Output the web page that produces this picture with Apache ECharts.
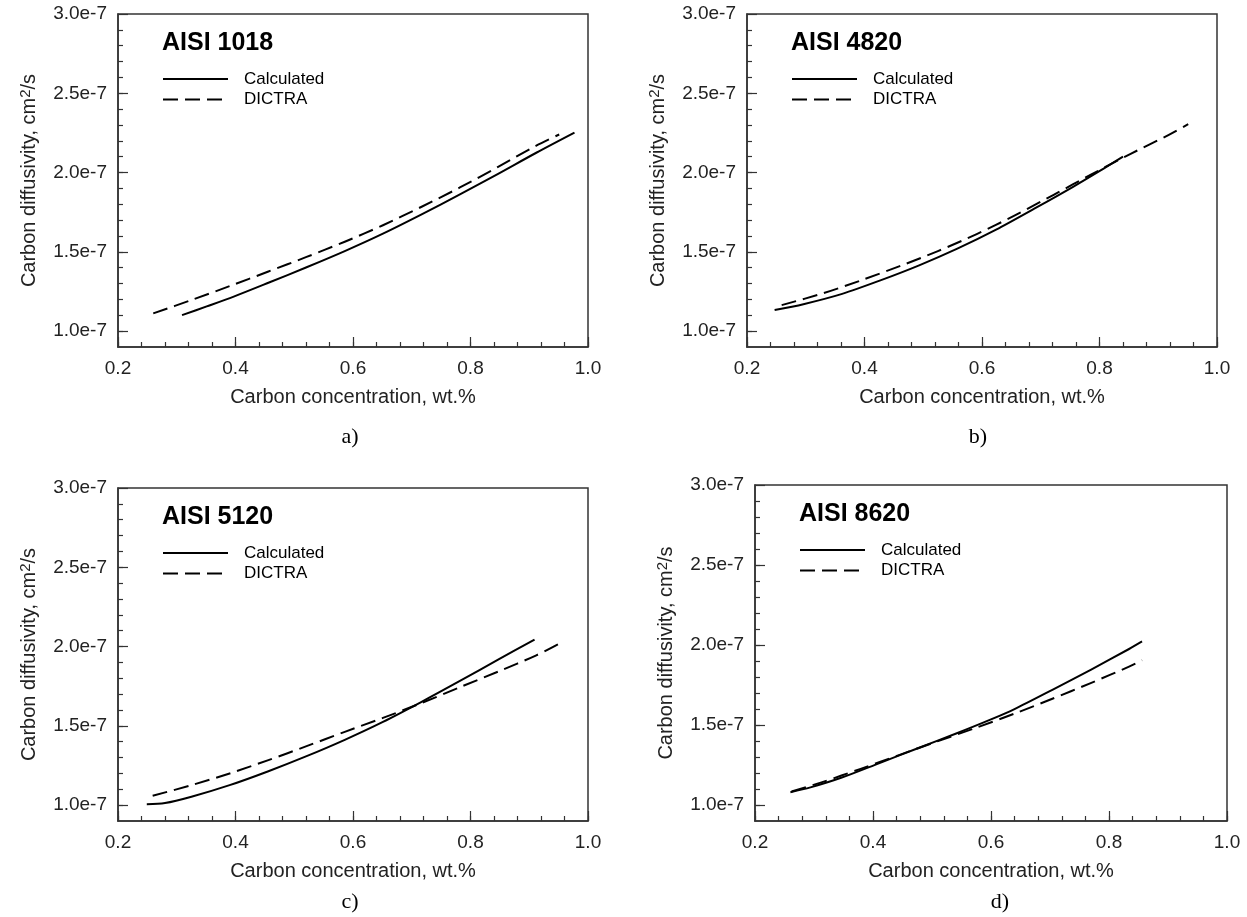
<!DOCTYPE html>
<html>
<head>
<meta charset="utf-8">
<script src="https://cdn.jsdelivr.net/npm/echarts@6/dist/echarts.min.js"></script>
<style>
  html, body { margin: 0; padding: 0; background: #fff; }
  #chart { width: 1247px; height: 917px; }
</style>
</head>
<body>
<div id="chart"></div>
<script>
// Carbon concentration (wt.%) and carbon diffusivity (cm^2/s) for each steel grade.
const conc1018Calc = [0.309, 0.351, 0.397, 0.456, 0.521, 0.586, 0.651, 0.716, 0.782, 0.847, 0.912, 0.977];
const diff1018Calc = [1.101e-7, 1.156e-7, 1.218e-7, 1.305e-7, 1.403e-7, 1.505e-7, 1.615e-7, 1.735e-7, 1.862e-7, 1.992e-7, 2.125e-7, 2.252e-7];
const conc1018Dictra = [0.260, 0.325, 0.390, 0.456, 0.521, 0.586, 0.651, 0.716, 0.782, 0.847, 0.912, 0.951];
const diff1018Dictra = [1.112e-7, 1.196e-7, 1.284e-7, 1.376e-7, 1.468e-7, 1.564e-7, 1.668e-7, 1.783e-7, 1.906e-7, 2.036e-7, 2.170e-7, 2.240e-7];

const conc4820Calc = [0.247, 0.296, 0.362, 0.427, 0.493, 0.558, 0.624, 0.689, 0.755, 0.807, 0.840];
const diff4820Calc = [1.133e-7, 1.170e-7, 1.235e-7, 1.320e-7, 1.415e-7, 1.520e-7, 1.640e-7, 1.772e-7, 1.910e-7, 2.025e-7, 2.100e-7];
const conc4820Dictra = [0.259, 0.329, 0.394, 0.460, 0.525, 0.591, 0.656, 0.722, 0.787, 0.853, 0.918, 0.951];
const diff4820Dictra = [1.164e-7, 1.238e-7, 1.320e-7, 1.410e-7, 1.505e-7, 1.612e-7, 1.730e-7, 1.860e-7, 1.990e-7, 2.118e-7, 2.238e-7, 2.305e-7];

const conc5120Calc = [0.249, 0.280, 0.325, 0.390, 0.456, 0.521, 0.586, 0.651, 0.716, 0.782, 0.847, 0.909];
const diff5120Calc = [1.006e-7, 1.013e-7, 1.053e-7, 1.126e-7, 1.214e-7, 1.309e-7, 1.412e-7, 1.525e-7, 1.650e-7, 1.783e-7, 1.918e-7, 2.044e-7];
const conc5120Dictra = [0.259, 0.325, 0.390, 0.456, 0.521, 0.586, 0.651, 0.716, 0.782, 0.847, 0.912, 0.951];
const diff5120Dictra = [1.059e-7, 1.126e-7, 1.200e-7, 1.284e-7, 1.372e-7, 1.462e-7, 1.550e-7, 1.643e-7, 1.744e-7, 1.842e-7, 1.945e-7, 2.019e-7];

const conc8620Calc = [0.260, 0.294, 0.346, 0.411, 0.476, 0.541, 0.600, 0.639, 0.704, 0.769, 0.834, 0.856];
const diff8620Calc = [1.080e-7, 1.110e-7, 1.170e-7, 1.262e-7, 1.355e-7, 1.447e-7, 1.535e-7, 1.598e-7, 1.720e-7, 1.845e-7, 1.975e-7, 2.022e-7];
const conc8620Dictra = [0.262, 0.314, 0.379, 0.444, 0.509, 0.574, 0.639, 0.704, 0.769, 0.834, 0.856];
const diff8620Dictra = [1.084e-7, 1.143e-7, 1.226e-7, 1.312e-7, 1.398e-7, 1.482e-7, 1.570e-7, 1.664e-7, 1.762e-7, 1.865e-7, 1.905e-7];

// Axis ranges and tick labels
const xMin = 0.2, xMax = 1.0;
const yMin = 0.9e-7, yMax = 3.0e-7;
const xTickLabels = [0.2, 0.4, 0.6, 0.8, 1.0];
const yTickLabels = [1.0e-7, 1.5e-7, 2.0e-7, 2.5e-7, 3.0e-7];
const xMinorStep = 0.04;
const yMinorStep = 0.1e-7;

const panelTitles = ['AISI 1018', 'AISI 4820', 'AISI 5120', 'AISI 8620'];
const panelCaptions = ['a)', 'b)', 'c)', 'd)'];
const seriesNames = ['Calculated', 'DICTRA'];
const xAxisName = 'Carbon concentration, wt.%';
const yAxisName = 'Carbon diffusivity, cm{sup|2}/s';

const panelData = [
  [[conc1018Calc, diff1018Calc], [conc1018Dictra, diff1018Dictra]],
  [[conc4820Calc, diff4820Calc], [conc4820Dictra, diff4820Dictra]],
  [[conc5120Calc, diff5120Calc], [conc5120Dictra, diff5120Dictra]],
  [[conc8620Calc, diff8620Calc], [conc8620Dictra, diff8620Dictra]]
];

// Page layout of the four panels
const panelLayout = [
  { left: 118, top: 14, width: 470, height: 333, captionX: 350, captionY: 426 },
  { left: 747, top: 14, width: 470, height: 333, captionX: 978, captionY: 426 },
  { left: 118, top: 488, width: 470, height: 333, captionX: 350, captionY: 891 },
  { left: 755, top: 485, width: 472, height: 336, captionX: 1000, captionY: 891 }
];

function stepValues(from, to, step) {
  const out = [];
  const n = Math.round((to - from) / step);
  for (let k = 0; k <= n; k++) out.push(from + k * step);
  return out;
}
const xMinorTicks = stepValues(xMin, xMax, xMinorStep);
const yMinorTicks = stepValues(1.0e-7, 2.9e-7, yMinorStep);

const SANS = '"Liberation Sans", Arial, Helvetica, sans-serif';
const SERIF = '"Liberation Serif", "Times New Roman", serif';
const INK = '#000';
const FRAME = '#333';

const grids = [], xAxes = [], yAxes = [], series = [], titles = [], legends = [];

panelLayout.forEach((p, i) => {
  grids.push({
    left: p.left, top: p.top, width: p.width, height: p.height,
    show: true, borderColor: FRAME, borderWidth: 1.5, backgroundColor: 'transparent'
  });

  // Main x axis: line, long ticks, labels, name
  xAxes.push({
    gridIndex: i, type: 'value', min: xMin, max: xMax, position: 'bottom',
    axisLine: { show: true, lineStyle: { color: FRAME, width: 1.5 } },
    axisTick: { show: true, inside: true, length: 10, customValues: xTickLabels, lineStyle: { color: FRAME, width: 1.2 } },
    axisLabel: { customValues: xTickLabels, formatter: v => v.toFixed(1), fontSize: 19, fontFamily: SANS, color: '#222', margin: 12 },
    splitLine: { show: false },
    name: xAxisName, nameLocation: 'middle', nameGap: 40,
    nameTextStyle: { fontSize: 20, fontFamily: SANS, color: '#222' }
  });
  // Minor x ticks
  xAxes.push({
    gridIndex: i, type: 'value', min: xMin, max: xMax, position: 'bottom',
    axisLine: { show: false },
    axisTick: { show: true, inside: true, length: 5, customValues: xMinorTicks, lineStyle: { color: FRAME, width: 1.2 } },
    axisLabel: { show: false }, splitLine: { show: false }
  });

  // Main y axis
  yAxes.push({
    gridIndex: i, type: 'value', min: yMin, max: yMax, position: 'left',
    axisLine: { show: true, lineStyle: { color: FRAME, width: 1.5 } },
    axisTick: { show: true, inside: true, length: 10, customValues: yTickLabels, lineStyle: { color: FRAME, width: 1.2 } },
    axisLabel: { customValues: yTickLabels, formatter: v => (v * 1e7).toFixed(1) + 'e-7', fontSize: 19, fontFamily: SANS, color: '#222', margin: 11 },
    splitLine: { show: false },
    name: yAxisName, nameLocation: 'middle', nameGap: 78, nameRotate: 90,
    nameTextStyle: {
      fontSize: 20, fontFamily: SANS, color: '#222', lineHeight: 22,
      rich: { sup: { fontSize: 15, fontFamily: SANS, color: '#222', lineHeight: 12, verticalAlign: 'top' } }
    }
  });
  // Minor y ticks
  yAxes.push({
    gridIndex: i, type: 'value', min: yMin, max: yMax, position: 'left',
    axisLine: { show: false },
    axisTick: { show: true, inside: true, length: 5, customValues: yMinorTicks, lineStyle: { color: FRAME, width: 1.2 } },
    axisLabel: { show: false }, splitLine: { show: false }
  });

  panelData[i].forEach((pair, s) => {
    const [xs, ys] = pair;
    series.push({
      name: seriesNames[s], type: 'line',
      xAxisIndex: 2 * i, yAxisIndex: 2 * i,
      data: xs.map((x, k) => [x, ys[k]]),
      symbol: 'none', showSymbol: false, smooth: 0.3,
      lineStyle: { color: INK, width: 2, type: s === 0 ? 'solid' : [15, 7], join: 'round' },
      itemStyle: { color: INK },
      z: 3
    });
  });

  // Panel heading, bold
  titles.push({
    text: panelTitles[i],
    left: p.left + 44, top: p.top + 17, padding: 0,
    textStyle: { fontSize: 25, fontWeight: 'bold', fontFamily: SANS, color: INK, lineHeight: 25 }
  });
  // Panel caption under the axis
  titles.push({
    text: panelCaptions[i],
    left: p.captionX, top: p.captionY, textAlign: 'center', padding: 0,
    textStyle: { fontSize: 22, fontWeight: 'normal', fontFamily: SERIF, color: INK, lineHeight: 22 }
  });

  legends.push({
    data: seriesNames,
    orient: 'vertical',
    left: p.left + 44, top: p.top + 56.5, padding: 0,
    itemWidth: 65, itemHeight: 14, itemGap: 3.5,
    selectedMode: false,
    itemStyle: { opacity: 0 },
    textStyle: { fontSize: 17, fontFamily: SANS, color: INK, lineHeight: 17, padding: [0, 0, 0, 11] }
  });
});

const chart = echarts.init(document.getElementById('chart'), null, { renderer: 'canvas' });
chart.setOption({
  backgroundColor: '#fff',
  animation: false,
  title: titles,
  legend: legends,
  grid: grids,
  xAxis: xAxes,
  yAxis: yAxes,
  series: series
});
</script>
</body>
</html>
